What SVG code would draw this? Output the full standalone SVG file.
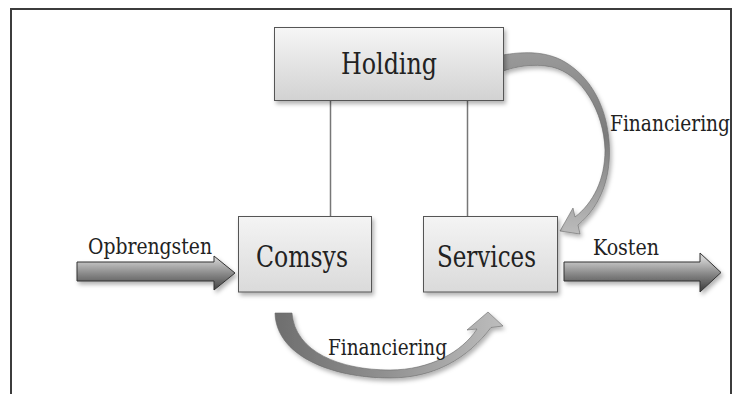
<svg xmlns="http://www.w3.org/2000/svg" width="734" height="394" viewBox="0 0 734 394">
  <defs>
    <style>
      .box { stroke: #555; stroke-width: 1; filter: url(#shadow); }
      .lbl { font-family: "DejaVu Serif Condensed", "DejaVu Serif", "Liberation Serif", serif; font-stretch: condensed; fill: #222; }
      .big { font-size: 29px; }
      .small { font-size: 21.5px; }
      .tie { stroke: #777; stroke-width: 1.5; fill: none; }
      .flat { fill: url(#flatGrad); stroke: #333; stroke-width: 1; filter: url(#shadow); }
      .curve { stroke: #6a6a6a; stroke-width: 0.6; filter: url(#shadow); }
    </style>
    <linearGradient id="boxGrad" x1="0" y1="0" x2="0" y2="1">
      <stop offset="0" stop-color="#f6f6f6"/>
      <stop offset="1" stop-color="#d2d2d2"/>
    </linearGradient>
    <linearGradient id="boxGradLight" x1="0" y1="0" x2="0" y2="1">
      <stop offset="0" stop-color="#f4f4f4"/>
      <stop offset="1" stop-color="#dadada"/>
    </linearGradient>
    <linearGradient id="flatGrad" gradientUnits="userSpaceOnUse" x1="0" y1="259" x2="0" y2="288">
      <stop offset="0" stop-color="#cfcfcf"/>
      <stop offset="0.5" stop-color="#8a8a8a"/>
      <stop offset="1" stop-color="#4a4a4a"/>
    </linearGradient>
    <linearGradient id="loopGrad" gradientUnits="userSpaceOnUse" x1="0" y1="55" x2="0" y2="234">
      <stop offset="0" stop-color="#999"/>
      <stop offset="0.45" stop-color="#7a7a7a"/>
      <stop offset="1" stop-color="#bcbcbc"/>
    </linearGradient>
    <linearGradient id="swingGrad" gradientUnits="userSpaceOnUse" x1="275" y1="0" x2="503" y2="0">
      <stop offset="0" stop-color="#6e6e6e"/>
      <stop offset="0.45" stop-color="#8e8e8e"/>
      <stop offset="1" stop-color="#bdbdbd"/>
    </linearGradient>
    <filter id="shadow" x="-20%" y="-20%" width="140%" height="160%">
      <feDropShadow dx="2" dy="3" stdDeviation="2.2" flood-color="#000" flood-opacity="0.3"/>
    </filter>
  </defs>

  <rect width="734" height="394" fill="#fff"/>

  <!-- frame, open at the bottom -->
  <path d="M11,394 V9 H731 V394" fill="none" stroke="#3c3c3c" stroke-width="2"/>

  <!-- connectors -->
  <g id="connectors">
    <line class="tie" x1="330.5" y1="101" x2="330.5" y2="216"/>
    <line class="tie" x1="467.5" y1="101" x2="467.5" y2="216"/>

    <!-- revenue in -->
    <polygon class="flat" points="77,262 214,262 214,256 235,273 214,290 214,281 77,281"/>
    <!-- costs out -->
    <polygon class="flat" points="564,262 700,262 700,253 721,272.5 700,292 700,281 564,281"/>

    <!-- financing loop Holding to Services: ribbon that narrows along the right side -->
    <path class="curve" fill="url(#loopGrad)"
      d="M503,55 C520,52 545,50 565,62 C590,77 606,105 609,140 C612,175 602,205 578,225
         L580,234 L560,231 L573,208 L575,217
         C593,203 605,180 605,150 C604,112 582,74 552,67 C532,63 515,67 503,71 Z"/>

    <!-- financing swing Comsys to Services -->
    <path class="curve" fill="url(#swingGrad)"
      d="M275,313 C276,355 330,378 390,378 C435,378 468,358 491,327.5
         L503,326 L488,312 L467,330 L477,329
         C462,352 430,370 390,370 C340,370 295,352 292,313 Z"/>
  </g>

  <g id="node-holding">
    <rect class="box" x="274.5" y="27.5" width="229" height="73" fill="url(#boxGrad)"/>
    <text class="lbl big" x="341" y="74" textLength="96" lengthAdjust="spacingAndGlyphs">Holding</text>
  </g>

  <g id="node-comsys">
    <rect class="box" x="238.5" y="216.5" width="133" height="75.5" fill="url(#boxGradLight)"/>
    <text class="lbl big" x="256" y="266.5" textLength="92" lengthAdjust="spacingAndGlyphs">Comsys</text>
  </g>

  <g id="node-services">
    <rect class="box" x="423.5" y="216.5" width="134" height="75.5" fill="url(#boxGradLight)"/>
    <text class="lbl big" x="437" y="266.5" textLength="99" lengthAdjust="spacingAndGlyphs">Services</text>
  </g>

  <g id="labels">
    <text class="lbl small" x="88" y="254" textLength="124" lengthAdjust="spacingAndGlyphs">Opbrengsten</text>
    <text class="lbl small" x="593" y="255" textLength="66" lengthAdjust="spacingAndGlyphs">Kosten</text>
    <text class="lbl small" x="610" y="131" textLength="120" lengthAdjust="spacingAndGlyphs">Financiering</text>
    <text class="lbl small" x="328" y="355" textLength="119" lengthAdjust="spacingAndGlyphs">Financiering</text>
  </g>
</svg>
